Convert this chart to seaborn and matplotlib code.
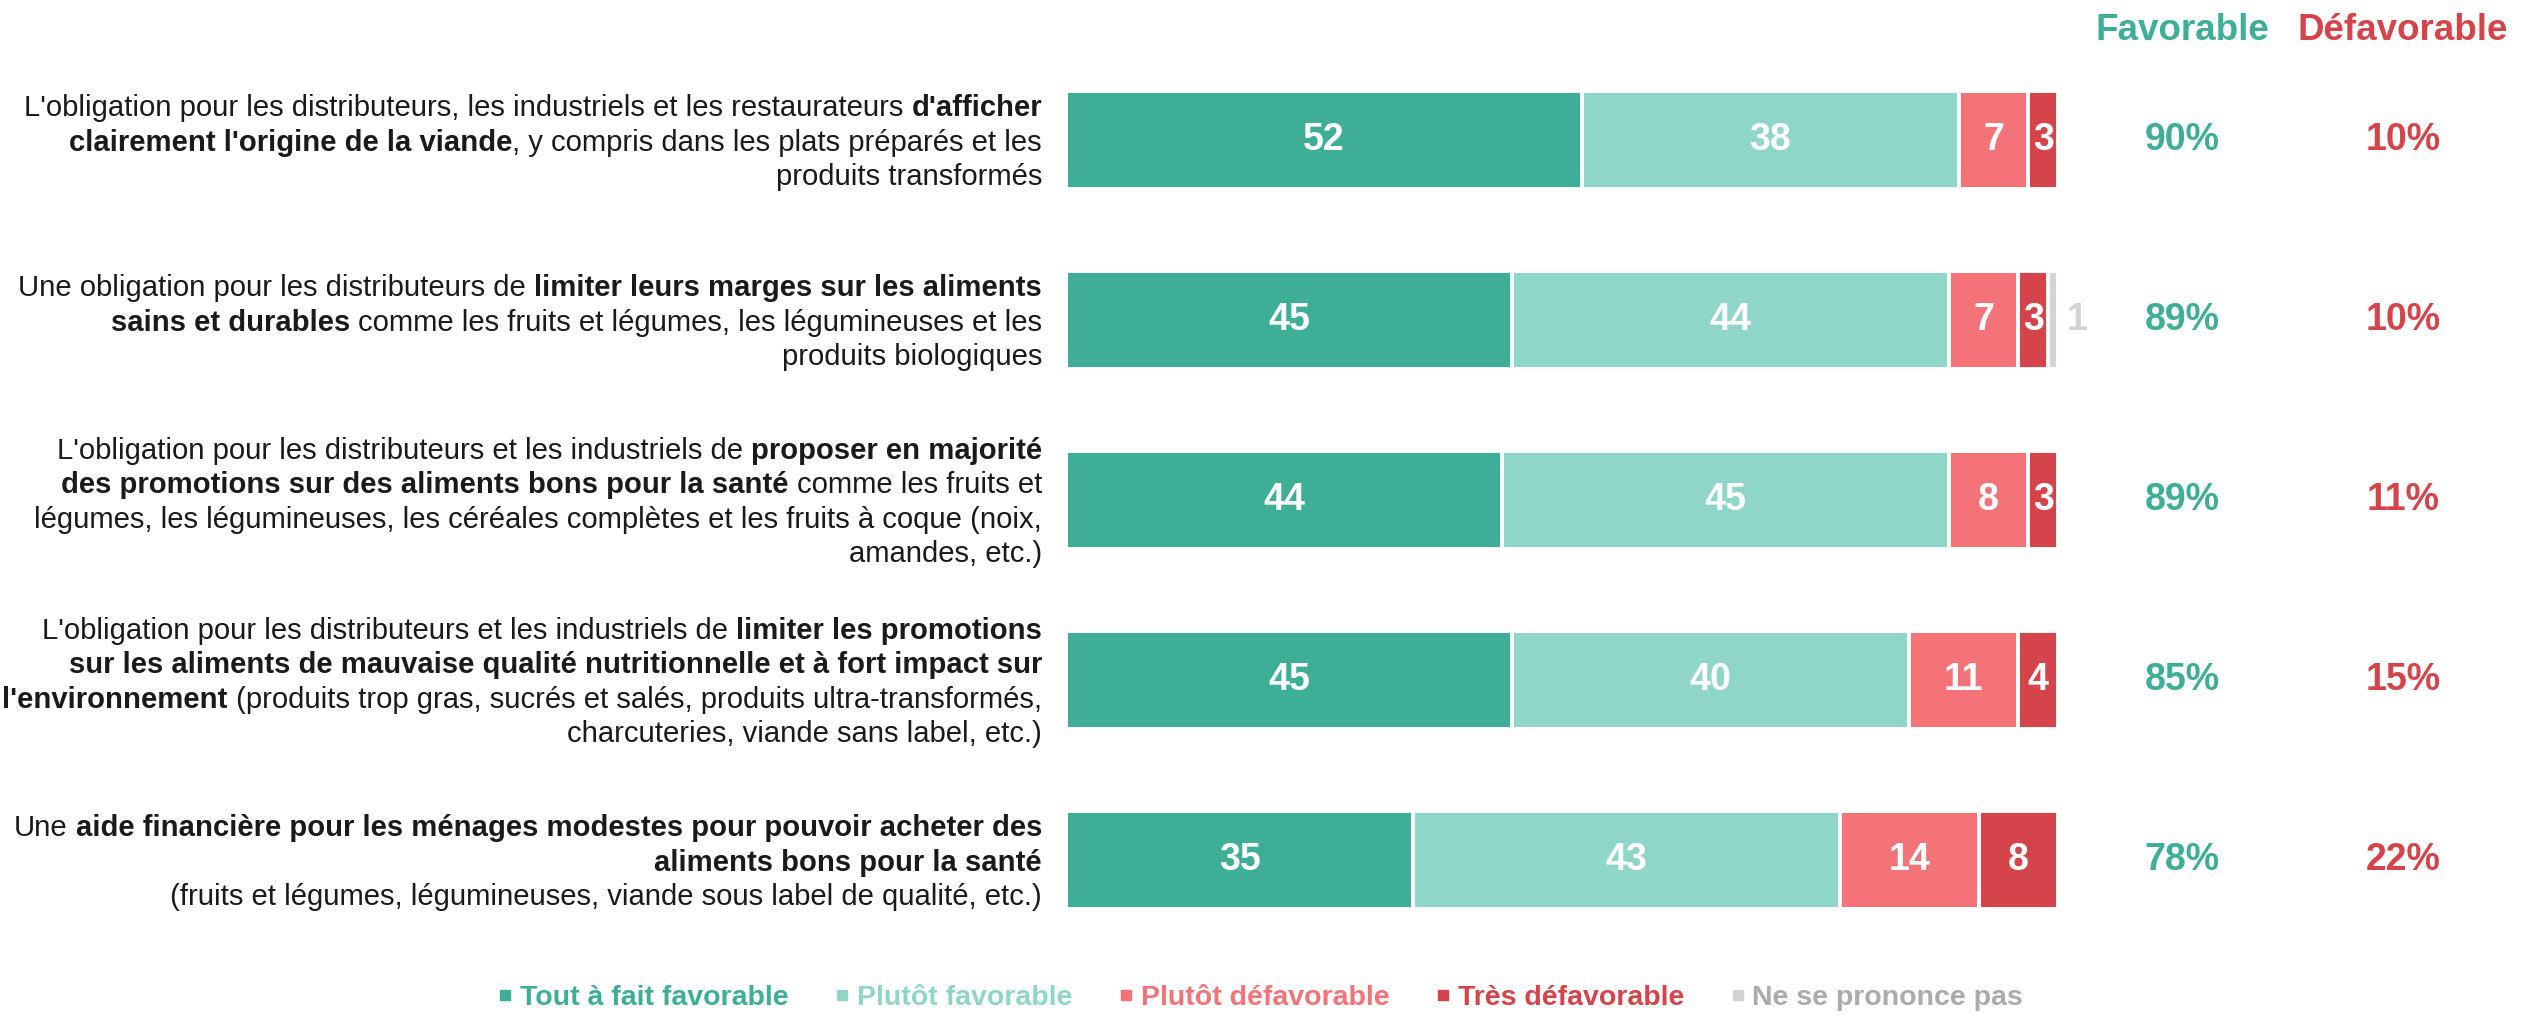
import matplotlib
matplotlib.use("Agg")
import matplotlib.pyplot as plt
from matplotlib.lines import Line2D
from matplotlib.transforms import blended_transform_factory
import numpy as np
import pandas as pd
import seaborn as sns

# ---- data -------------------------------------------------------------
items = ["origine_viande", "marges", "promotions_sante",
         "limiter_promotions", "aide_financiere"]
tout_fav = [52, 45, 44, 45, 35]
plutot_fav = [38, 44, 45, 40, 43]
plutot_defav = [7, 7, 8, 11, 14]
tres_defav = [3, 3, 3, 4, 8]
nsp = [0, 1, 0, 0, 0]

series_names = ["Tout à fait favorable", "Plutôt favorable",
                "Plutôt défavorable", "Très défavorable", "Ne se prononce pas"]
series_colors = ["#3FAE96", "#8FD5C8", "#F47378", "#D6444B", "#D3D3D3"]
legend_text_colors = ["#3FAE96", "#8FD5C8", "#F47378", "#D6444B", "#ABABAB"]

# Item labels: lines of (text, bold) segments
item_labels = [
    [[("L'obligation pour les distributeurs, les industriels et les restaurateurs ", False),
      ("d'afficher", True)],
     [("clairement l'origine de la viande", True),
      (", y compris dans les plats préparés et les", False)],
     [("produits transformés", False)]],
    [[("Une obligation pour les distributeurs de ", False),
      ("limiter leurs marges sur les aliments", True)],
     [("sains et durables", True),
      (" comme les fruits et légumes, les légumineuses et les", False)],
     [("produits biologiques", False)]],
    [[("L'obligation pour les distributeurs et les industriels de ", False),
      ("proposer en majorité", True)],
     [("des promotions sur des aliments bons pour la santé", True),
      (" comme les fruits et", False)],
     [("légumes, les légumineuses, les céréales complètes et les fruits à coque (noix,", False)],
     [("amandes, etc.)", False)]],
    [[("L'obligation pour les distributeurs et les industriels de ", False),
      ("limiter les promotions", True)],
     [("sur les aliments de mauvaise qualité nutritionnelle et à fort impact sur", True)],
     [("l'environnement", True),
      (" (produits trop gras, sucrés et salés, produits ultra-transformés,", False)],
     [("charcuteries, viande sans label, etc.)", False)]],
    [[("Une ", False),
      ("aide financière pour les ménages modestes pour pouvoir acheter des", True)],
     [("aliments bons pour la santé", True)],
     [("(fruits et légumes, légumineuses, viande sous label de qualité, etc.)", False)]],
]

# ---- style ------------------------------------------------------------
sns.set_theme(style="white")
plt.rcParams["font.family"] = ["Liberation Sans", "DejaVu Sans"]

W, H = 2522, 1016
fig = plt.figure(figsize=(W / 100, H / 100), dpi=100)
fig.patch.set_facecolor("white")
ax = fig.add_axes([1066 / W, 66 / H, 992 / W, 900 / H])

# ---- stacked bars (drawn as overlapping cumulative totals) -------------
layers = np.array([tout_fav, plutot_fav, plutot_defav, tres_defav, nsp])
cum = np.cumsum(layers, axis=0)
for k in reversed(range(len(layers))):
    df = pd.DataFrame({"item": items, "value": cum[k]})
    sns.barplot(data=df, x="value", y="item", order=items, orient="h",
                color=series_colors[k], saturation=1, width=0.54,
                edgecolor="white", linewidth=2.8, ax=ax)

ax.set_xlim(0, 100)
ax.set_ylim(len(items) - 0.5, -0.5)
ax.axis("off")

# values inside the segments
VALUE_SIZE = 27
for i in range(len(items)):
    for k in range(len(layers)):
        v = layers[k][i]
        if v <= 0:
            continue
        start = cum[k][i] - v
        if k == 4:
            ax.text(cum[k][i] + 0.9, i, f"{v}", ha="left", va="center",
                    fontsize=VALUE_SIZE, fontweight="bold", color="#D3D3D3")
        else:
            ax.text(start + v / 2, i, f"{v}", ha="center", va="center",
                    fontsize=VALUE_SIZE, fontweight="bold", color="white")

# favorable / défavorable totals
fav_total = layers[0] + layers[1]
defav_total = layers[2] + layers[3]
tr = blended_transform_factory(fig.transFigure, ax.transData)
x_fav, x_def = 2182 / W, 2403 / W
for i in range(len(items)):
    ax.text(x_fav, i, f"{fav_total[i]}%", transform=tr, ha="center", va="center",
            fontsize=27, fontweight="bold", color=series_colors[0])
    ax.text(x_def, i, f"{defav_total[i]}%", transform=tr, ha="center", va="center",
            fontsize=27, fontweight="bold", color=series_colors[3])
fig.text(x_fav, 1 - 30 / H, "Favorable", ha="center", va="center",
         fontsize=26.5, fontweight="bold", color=series_colors[0])
fig.text(x_def, 1 - 30 / H, "Défavorable", ha="center", va="center",
         fontsize=26.5, fontweight="bold", color=series_colors[3])

# ---- item labels with mixed weights ------------------------------------
renderer = fig.canvas.get_renderer()
LABEL_SIZE = 21.1
LINE_STEP = 34.6          # pixels between baselines
X_RIGHT = 1042            # right edge of the labels, pixels


def text_width(s, bold):
    t = fig.text(0, 0, s, fontsize=LABEL_SIZE,
                 fontweight="bold" if bold else "normal")
    w = t.get_window_extent(renderer).width
    t.remove()
    return w


space_w = {b: text_width("a a", b) - text_width("aa", b) for b in (False, True)}
cap_half = 0.36 * LABEL_SIZE * 100 / 72

for i, lines in enumerate(item_labels):
    yc = ax.transData.transform((0, i))[1]
    n = len(lines)
    for j, segs in enumerate(lines):
        y_base = yc + ((n - 1) / 2 - j) * LINE_STEP - cap_half
        x = X_RIGHT
        for s, bold in reversed(segs):
            core = s.strip()
            lead = len(s) - len(s.lstrip())
            trail = len(s) - len(s.rstrip())
            x -= trail * space_w[bold]
            t = fig.text(x / W, y_base / H, core, ha="right", va="baseline",
                         fontsize=LABEL_SIZE, color="#1A1A1A",
                         fontweight="bold" if bold else "normal")
            x -= t.get_window_extent(renderer).width
            x -= lead * space_w[bold]

# ---- legend -------------------------------------------------------------
handles = [Line2D([], [], marker="s", linestyle="", markersize=7,
                  markerfacecolor=c, markeredgecolor=c) for c in series_colors]
fig.legend(handles, series_names, loc="center", bbox_to_anchor=(0.5, 18 / H),
           ncol=5, frameon=False, handlelength=0.45, handletextpad=0.3,
           columnspacing=1.65, labelcolor=legend_text_colors,
           prop={"size": 20.5, "weight": "bold"})

fig.savefig("out.png", dpi=100, facecolor="white")
